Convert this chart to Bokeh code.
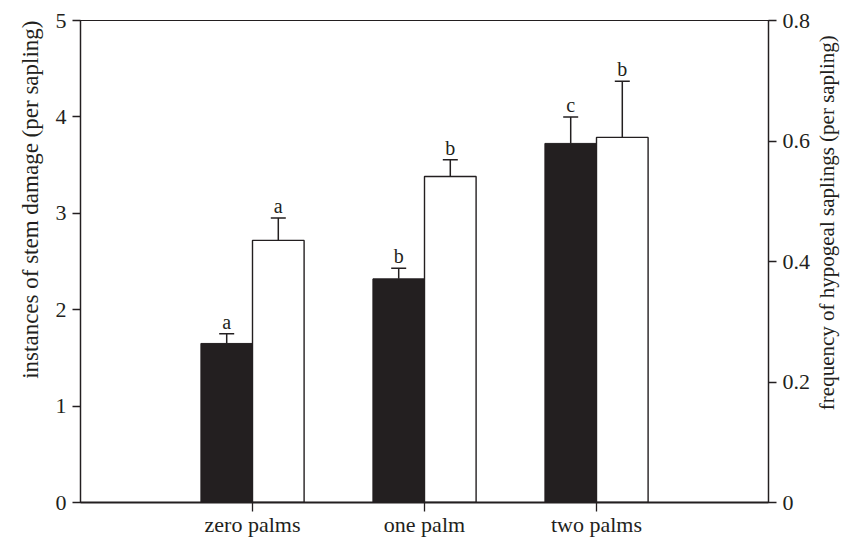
import math
from bokeh.plotting import figure
from bokeh.layouts import row
from bokeh.models import (ColumnDataSource, Range1d, LinearAxis, FixedTicker,
                          Whisker, TeeHead, Title)
from bokeh.core.properties import value
from bokeh.embed import file_html
from bokeh.resources import INLINE

categories = ["zero palms", "one palm", "two palms"]
cat_pos = [1, 2, 3]

stem_damage = [1.65, 2.32, 3.725]
stem_damage_err_top = [1.75, 2.43, 4.0]
stem_letters = ["a", "b", "c"]

hypogeal_freq = [0.435, 0.541, 0.606]
hypogeal_err_top = [0.472, 0.569, 0.699]
hypogeal_letters = ["a", "b", "b"]

left_ticks = [0, 1, 2, 3, 4, 5]
right_ticks = [0, 0.2, 0.4, 0.6, 0.8]
right_tick_labels = {0: "0", 0.2: "0.2", 0.4: "0.4", 0.6: "0.6", 0.8: "0.8"}

left_title = "instances of stem damage (per sapling)"
right_title = "frequency of hypogeal saplings (per sapling)"

INK = "#231f20"
FONT = "Liberation Serif"
BAR_W = 0.3
Y_MAX = 5
FRAME_H = 482
TOP_B = 20

p = figure(frame_width=688, frame_height=FRAME_H, output_backend="svg",
           toolbar_location=None, x_range=Range1d(0, 4), y_range=Range1d(0, Y_MAX),
           min_border_left=80, min_border_right=44, min_border_top=TOP_B,
           min_border_bottom=31)
p.extra_y_ranges = {"right": Range1d(0, 0.8)}
p.xgrid.visible = False
p.ygrid.visible = False
p.outline_line_color = INK
p.outline_line_width = 1.2
p.background_fill_color = "white"
p.border_fill_color = "white"

black_x = [c - BAR_W / 2 for c in cat_pos]
white_x = [c + BAR_W / 2 for c in cat_pos]

src_b = ColumnDataSource(dict(x=black_x, top=stem_damage, up=stem_damage_err_top,
                              lab=stem_letters))
src_w = ColumnDataSource(dict(x=white_x, top=hypogeal_freq, up=hypogeal_err_top,
                              lab=hypogeal_letters))

p.vbar(x="x", top="top", bottom=0, width=BAR_W, source=src_b,
       fill_color=INK, line_color=INK, line_width=1)
p.vbar(x="x", top="top", bottom=0, width=BAR_W, source=src_w,
       fill_color="white", line_color=INK, line_width=1.4, y_range_name="right")

wb = Whisker(base="x", lower="top", upper="up", source=src_b,
             line_color=INK, line_width=1.5, lower_head=None,
             upper_head=TeeHead(size=15, line_color=INK, line_width=1.5))
ww = Whisker(base="x", lower="top", upper="up", source=src_w,
             line_color=INK, line_width=1.5, lower_head=None,
             upper_head=TeeHead(size=15, line_color=INK, line_width=1.5),
             y_range_name="right")
p.add_layout(wb)
p.add_layout(ww)

p.text(x="x", y="up", text="lab", source=src_b, text_align="center",
       text_baseline="bottom", y_offset=-1, text_font=value(FONT),
       text_font_size="20px", text_color=INK)
p.text(x="x", y="up", text="lab", source=src_w, text_align="center",
       text_baseline="bottom", y_offset=-1, text_font=value(FONT),
       text_font_size="20px", text_color=INK, y_range_name="right")

# bottom axis
xa = p.xaxis[0]
xa.ticker = FixedTicker(ticks=cat_pos)
xa.major_label_overrides = {c: n for c, n in zip(cat_pos, categories)}
xa.minor_tick_line_color = None
xa.major_tick_in = 0
xa.major_tick_out = 9
xa.major_label_standoff = 0
xa.axis_line_width = 2
xa.axis_line_color = INK
xa.major_tick_line_color = INK
xa.major_tick_line_width = 1.3
xa.major_label_text_font = FONT
xa.major_label_text_font_size = "22px"
xa.major_label_text_color = INK

# left axis
ya = p.yaxis[0]
ya.ticker = FixedTicker(ticks=left_ticks)
ya.minor_tick_line_color = None
ya.major_tick_in = 0
ya.major_tick_out = 8
ya.major_label_standoff = 6
ya.axis_line_color = INK
ya.axis_line_width = 1.3
ya.major_tick_line_color = INK
ya.major_tick_line_width = 1.3
ya.major_label_text_font = FONT
ya.major_label_text_font_size = "22px"
ya.major_label_text_color = INK

# left title, aligned toward the top like the reference
lt = Title(text=left_title, align="right", text_font=FONT,
           text_font_size="23px", text_font_style="normal", text_color=INK)
try:
    lt.standoff = 19
except Exception:
    pass
p.add_layout(lt, "left")

# right axis
ra = LinearAxis(y_range_name="right", ticker=FixedTicker(ticks=right_ticks))
ra.major_label_overrides = right_tick_labels
ra.minor_tick_line_color = None
ra.major_tick_in = 0
ra.major_tick_out = 8
ra.major_label_standoff = 6
ra.axis_line_color = INK
ra.axis_line_width = 1.3
ra.major_tick_line_color = INK
ra.major_tick_line_width = 1.3
ra.major_label_text_font = FONT
ra.major_label_text_font_size = "22px"
ra.major_label_text_color = INK
p.add_layout(ra, "right")

# narrow strip for the right-hand title (reads bottom to top)
strip_h = FRAME_H + TOP_B
q = figure(width=30, frame_height=strip_h, output_backend="svg",
           toolbar_location=None, x_range=Range1d(0, 1),
           y_range=Range1d(0, Y_MAX * strip_h / FRAME_H),
           min_border_left=0, min_border_right=0, min_border_top=0,
           min_border_bottom=31)
q.axis.visible = False
q.xgrid.visible = False
q.ygrid.visible = False
q.outline_line_color = None
q.border_fill_color = "white"
q.background_fill_color = "white"
q.text(x=[0.45], y=[3.11], text=[right_title], angle=math.pi / 2,
       text_align="center", text_baseline="middle", text_font=value(FONT),
       text_font_size="21px", text_color=INK)

layout = row(p, q)
open("out.html", "w").write(file_html(layout, INLINE))
